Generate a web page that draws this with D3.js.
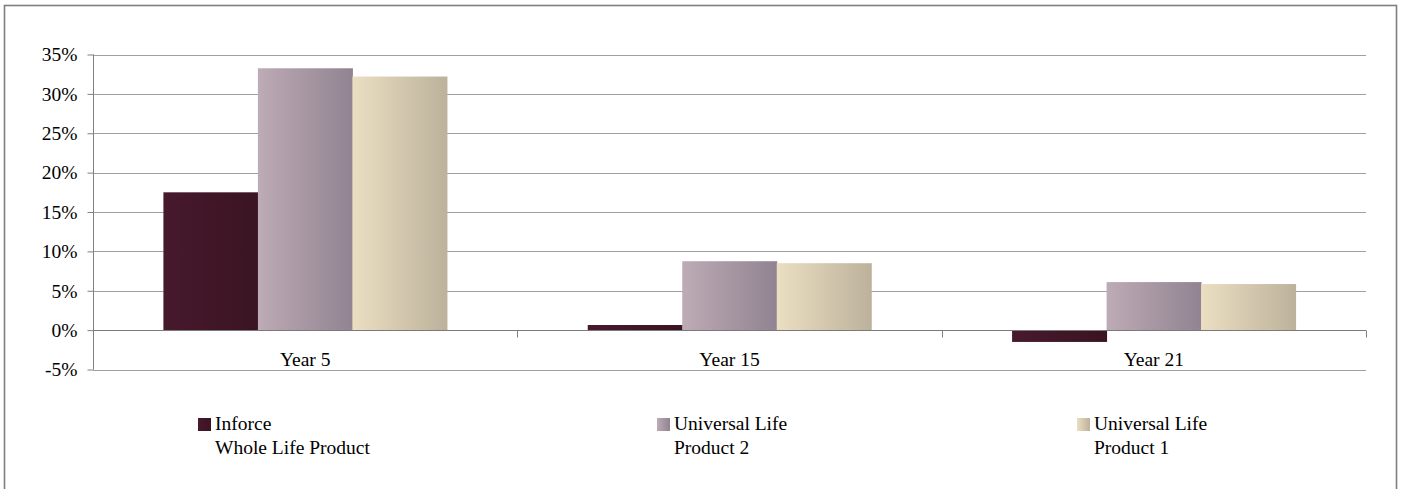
<!DOCTYPE html>
<html>
<head>
<meta charset="utf-8">
<script src="https://cdn.jsdelivr.net/npm/d3@7"></script>
<style>
  html, body { margin: 0; padding: 0; background: #fff; }
  svg { display: block; }
  text { font-family: "Liberation Serif", "Times New Roman", serif; fill: #000; }
</style>
</head>
<body>
<svg id="chart" width="1403" height="489"></svg>
<script>
// Categories and series
const categories = ["Year 5", "Year 15", "Year 21"];
const seriesNames = ["Inforce\nWhole Life Product", "Universal Life\nProduct 2", "Universal Life\nProduct 1"];
const seriesKeys = ["inforce", "ul2", "ul1"];
const inforceValues = [0.175, 0.0065, -0.015];
const ul2Values = [0.3325, 0.0875, 0.061];
const ul1Values = [0.322, 0.085, 0.0585];
const yTicks = [-0.05, 0, 0.05, 0.10, 0.15, 0.20, 0.25, 0.30, 0.35];
const yTickLabels = ["-5%", "0%", "5%", "10%", "15%", "20%", "25%", "30%", "35%"];

const seriesValues = [inforceValues, ul2Values, ul1Values];

// Horizontal gradient stops per series
const gradients = {
  inforce: ["#47192D", "#3A1422"],
  ul2: ["#BDABB5", "#918391"],
  ul1: ["#EBDFC2", "#BCB19B"]
};

const svg = d3.select("#chart");
const W = 1403, H = 489;
const plot = { left: 93, right: 1366, top: 54.5, bottom: 369.5 };

const defs = svg.append("defs");
seriesKeys.forEach(k => {
  const g = defs.append("linearGradient").attr("id", "grad-" + k)
    .attr("x1", "0%").attr("x2", "100%").attr("y1", "0%").attr("y2", "0%");
  g.append("stop").attr("offset", "0%").attr("stop-color", gradients[k][0]);
  g.append("stop").attr("offset", "100%").attr("stop-color", gradients[k][1]);
});

// Outer frame
svg.append("rect")
  .attr("x", 4.5).attr("y", 5.5)
  .attr("width", 1392).attr("height", 490)
  .attr("fill", "none").attr("stroke", "#7F7F7F").attr("stroke-width", 1.6);

const x0 = d3.scaleBand().domain(categories).range([plot.left, plot.right]).padding(0);
const x1 = d3.scaleBand().domain(seriesKeys).range([0, x0.bandwidth()])
  .paddingInner(0).paddingOuter(0.745);
const y = d3.scaleLinear().domain([-0.05, 0.35]).range([plot.bottom, plot.top]);

// Gridlines (all ticks except zero, which is the category axis)
svg.append("g").selectAll("line")
  .data(yTicks.filter(t => t !== 0))
  .join("line")
  .attr("x1", plot.left).attr("x2", plot.right)
  .attr("y1", d => Math.round(y(d)) + 0.5).attr("y2", d => Math.round(y(d)) + 0.5)
  .attr("stroke", "#A0A0A0").attr("stroke-width", 1);

// Bars
const rows = categories.map((c, i) => ({
  cat: c,
  vals: seriesKeys.map((k, j) => ({ key: k, value: seriesValues[j][i] }))
}));

const groups = svg.append("g").selectAll("g")
  .data(rows).join("g")
  .attr("transform", d => `translate(${x0(d.cat)},0)`);

groups.selectAll("rect")
  .data(d => d.vals)
  .join("rect")
  .attr("x", d => x1(d.key))
  .attr("width", x1.bandwidth() + 0.5)
  .attr("y", d => y(Math.max(0, d.value)))
  .attr("height", d => Math.abs(y(d.value) - y(0)))
  .attr("fill", d => `url(#grad-${d.key})`);

// Y axis
const yAxis = d3.axisLeft(y).tickValues(yTicks)
  .tickFormat((d, i) => yTickLabels[i]).tickSize(6).tickPadding(10);
const yg = svg.append("g").attr("transform", `translate(${plot.left + 0.5},0)`).call(yAxis);
yg.select(".domain").attr("stroke", "#808080").attr("d", `M0,${plot.top}V${plot.bottom}`);
yg.selectAll(".tick line").attr("stroke", "#808080");
yg.selectAll(".tick text").attr("font-size", "19.5px")
  .attr("font-family", "'Liberation Serif', 'Times New Roman', serif").attr("fill", "#000");

// Category axis along zero
const xAxis = d3.axisBottom(x0).tickSize(0).tickPadding(0).tickFormat(() => "");
const xg = svg.append("g").attr("transform", `translate(0,${Math.round(y(0)) + 0.5})`).call(xAxis);
xg.select(".domain").attr("stroke", "#7A7A7A").attr("stroke-width", 1.2)
  .attr("d", `M${plot.left},0H${plot.right}`);
xg.selectAll(".tick").remove();

// Tick marks at category boundaries
const boundaries = categories.map(c => x0(c)).concat([x0.range()[1]]);
xg.selectAll(".bound").data(boundaries).join("line")
  .attr("class", "bound")
  .attr("x1", d => Math.round(d) + 0.5).attr("x2", d => Math.round(d) + 0.5)
  .attr("y1", 0).attr("y2", 7)
  .attr("stroke", "#808080");

// Category labels
svg.append("g").selectAll("text")
  .data(categories).join("text")
  .attr("x", d => x0(d) + x0.bandwidth() / 2)
  .attr("y", 366)
  .attr("text-anchor", "middle")
  .attr("font-size", "19.5px")
  .text(d => d);

// Legend
const legendX = [198, 657, 1077];
const legend = svg.append("g").selectAll("g")
  .data(seriesKeys).join("g")
  .attr("transform", (d, i) => `translate(${legendX[i]},418)`);
legend.append("rect")
  .attr("width", 13).attr("height", 13)
  .attr("fill", d => `url(#grad-${d})`);
legend.each(function (d, i) {
  const lines = seriesNames[i].split("\n");
  const t = d3.select(this).append("text")
    .attr("x", 17).attr("y", 12)
    .attr("font-size", "19.5px");
  lines.forEach((ln, k) => {
    t.append("tspan").attr("x", 17).attr("dy", k === 0 ? 0 : 24).text(ln);
  });
});
</script>
</body>
</html>
